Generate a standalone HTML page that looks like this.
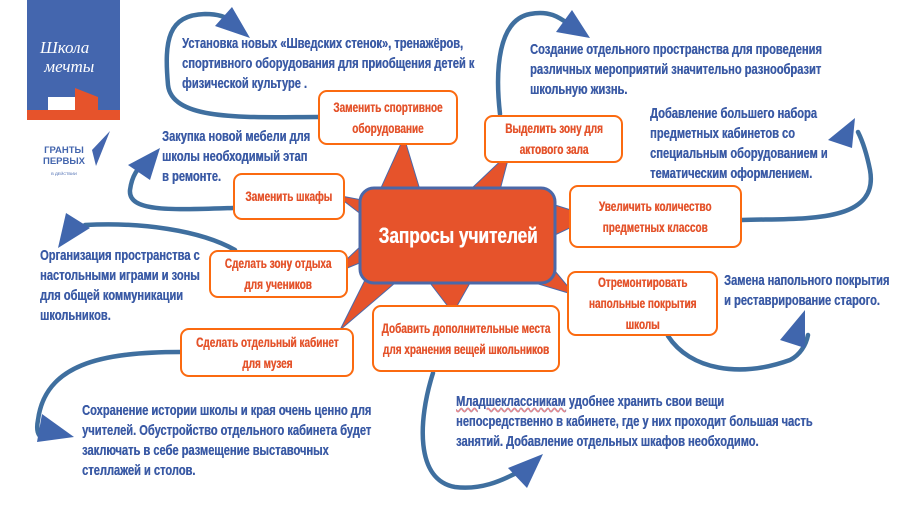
<!DOCTYPE html>
<html><head><meta charset="utf-8"><style>
html,body{margin:0;padding:0;background:#fff}
body{width:900px;height:506px;position:relative;overflow:hidden;font-family:"Liberation Sans",sans-serif;font-weight:bold}
.t{position:absolute;color:#3a5aa5;font-size:15px;line-height:20px;white-space:nowrap;transform:scaleX(.74);transform-origin:left top;text-shadow:0.4px 0 0 #3a5aa5}
.b{position:absolute;background:#fff;border:2px solid #fb6a10;border-radius:9px;color:#e4532b;font-size:13.5px;line-height:21px;text-align:center;display:flex;align-items:center;justify-content:center;box-sizing:border-box;white-space:nowrap}
.b span{display:block;transform:scaleX(.74);text-shadow:0.4px 0 0 #e4532b}
svg{position:absolute;left:0;top:0}
</style></head><body>
<svg width="900" height="506">
<g fill="#e6532b" stroke="#4b68a8" stroke-width="1">
<polygon points="380,190 404,137 420,190"/>
<polygon points="470,190 510,152 500,190"/>
<polygon points="555,205 593,217 555,235"/>
<polygon points="550,265 575,295 535,283"/>
<polygon points="430,283 453,313 470,283"/>
<polygon points="370,270 340,330 395,283"/>
<polygon points="362,245 330,275 362,262"/>
<polygon points="362,200 336,195 362,215"/>
</g>
<rect x="360" y="188" width="195" height="95" rx="14" fill="#e6532b" stroke="#4b68a8" stroke-width="3"/>
<g fill="none" stroke="#3f6f9f" stroke-width="4.5" stroke-linecap="round">
<path d="M318,117 C250,117 172,122 168,85 C164,40 168,15 205,14 C220,14 228,18 232,22"/>
<path d="M233,208 C170,210 128,212 130,190 C132,175 138,168 145,162"/>
<path d="M235,250 C200,230 140,222 85,225"/>
<path d="M180,352 C100,352 45,365 38,420 C36,430 38,436 42,437"/>
<path d="M433,373 C418,420 415,480 455,487 C480,490 500,482 522,470"/>
<path d="M668,336 C690,370 740,378 790,360 C800,355 806,345 808,335"/>
<path d="M742,220 C800,218 880,225 870,170 C866,150 862,140 858,132"/>
<path d="M500,114 C495,70 498,20 530,14 C550,10 560,18 570,25"/>
</g>
<g fill="#4066ad">
<polygon points="215,26 232,7 250,38"/>
<polygon points="160,148 128,165 150,180"/>
<polygon points="66,213 90,228 58,248"/>
<polygon points="74,437 42,414 37,442"/>
<polygon points="543,454 508,468 527,488"/>
<polygon points="805,310 780,340 805,348"/>
<polygon points="855,118 828,140 852,148"/>
<polygon points="590,38 572,10 556,32"/>
</g>
<rect x="27" y="0" width="93" height="120" fill="#4466ae"/>
<rect x="27" y="110" width="93" height="10" fill="#e6532b"/>
<polygon points="48,110 48,97 75,97 75,110" fill="#fff"/>
<polygon points="75,110 75,88 98,97 98,110" fill="#e6532b"/>
<polygon points="96,166 110,131 92,150" fill="#4466ae"/>
</svg>
<div style="position:absolute;left:40px;top:38px;color:#fff;font-family:'Liberation Serif',serif;font-style:italic;font-size:17px;line-height:19px;font-weight:normal">Школа<br>&nbsp;мечты</div>
<div style="position:absolute;left:34px;top:145px;color:#4466ae;font-family:'Liberation Sans',sans-serif;font-size:9.5px;line-height:11px;text-align:center;width:60px">ГРАНТЫ<br>ПЕРВЫХ<br><span style="font-size:4px;font-weight:normal">В ДЕЙСТВИИ</span></div>

<div class="t" style="left:182px;top:34px">Установка новых «Шведских стенок», тренажёров,<br>спортивного оборудования для приобщения детей к<br>физической культуре .</div>
<div class="t" style="left:162px;top:127px">Закупка новой мебели для<br>школы необходимый этап<br>в ремонте.</div>
<div class="t" style="left:40px;top:246px">Организация пространства с<br>настольными играми и зоны<br>для общей коммуникации<br>школьников.</div>
<div class="t" style="left:82px;top:401px">Сохранение истории школы и края очень ценно для<br>учителей. Обустройство отдельного кабинета будет<br>заключать в себе размещение выставочных<br>стеллажей и столов.</div>
<div class="t" style="left:530px;top:40px">Создание отдельного пространства для проведения<br>различных мероприятий значительно разнообразит<br>школьную жизнь.</div>
<div class="t" style="left:650px;top:104px">Добавление большего набора<br>предметных кабинетов со<br>специальным оборудованием и<br>тематическим оформлением.</div>
<div class="t" style="left:724px;top:271px">Замена напольного покрытия<br>и реставрирование старого.</div>
<div class="t" style="left:456px;top:392px"><span style="text-decoration:underline wavy #e88;">Младшеклассникам</span> удобнее хранить свои вещи<br>непосредственно в кабинете, где у них проходит большая часть<br>занятий. Добавление отдельных шкафов необходимо.</div>

<div class="b" style="left:318px;top:90px;width:140px;height:55px"><span>Заменить спортивное<br>оборудование</span></div>
<div class="b" style="left:484px;top:115px;width:139px;height:48px"><span>Выделить зону для<br>актового зала</span></div>
<div class="b" style="left:233px;top:173px;width:112px;height:47px"><span>Заменить шкафы</span></div>
<div class="b" style="left:569px;top:185px;width:173px;height:63px"><span>Увеличить количество<br>предметных классов</span></div>
<div class="b" style="left:209px;top:250px;width:139px;height:48px"><span>Сделать зону отдыха<br>для учеников</span></div>
<div class="b" style="left:567px;top:271px;width:151px;height:65px"><span>Отремонтировать<br>напольные покрытия<br>школы</span></div>
<div class="b" style="left:372px;top:305px;width:188px;height:67px"><span>Добавить дополнительные места<br>для хранения вещей школьников</span></div>
<div class="b" style="left:180px;top:328px;width:174px;height:49px"><span>Сделать отдельный кабинет<br>для музея</span></div>
<div style="position:absolute;left:360px;top:188px;width:195px;height:95px;display:flex;align-items:center;justify-content:center;color:#fff;font-size:22px;white-space:nowrap"><span style="transform:scaleX(.78);display:block;text-shadow:0.5px 0 0 #fff">Запросы учителей</span></div>
</body></html>
